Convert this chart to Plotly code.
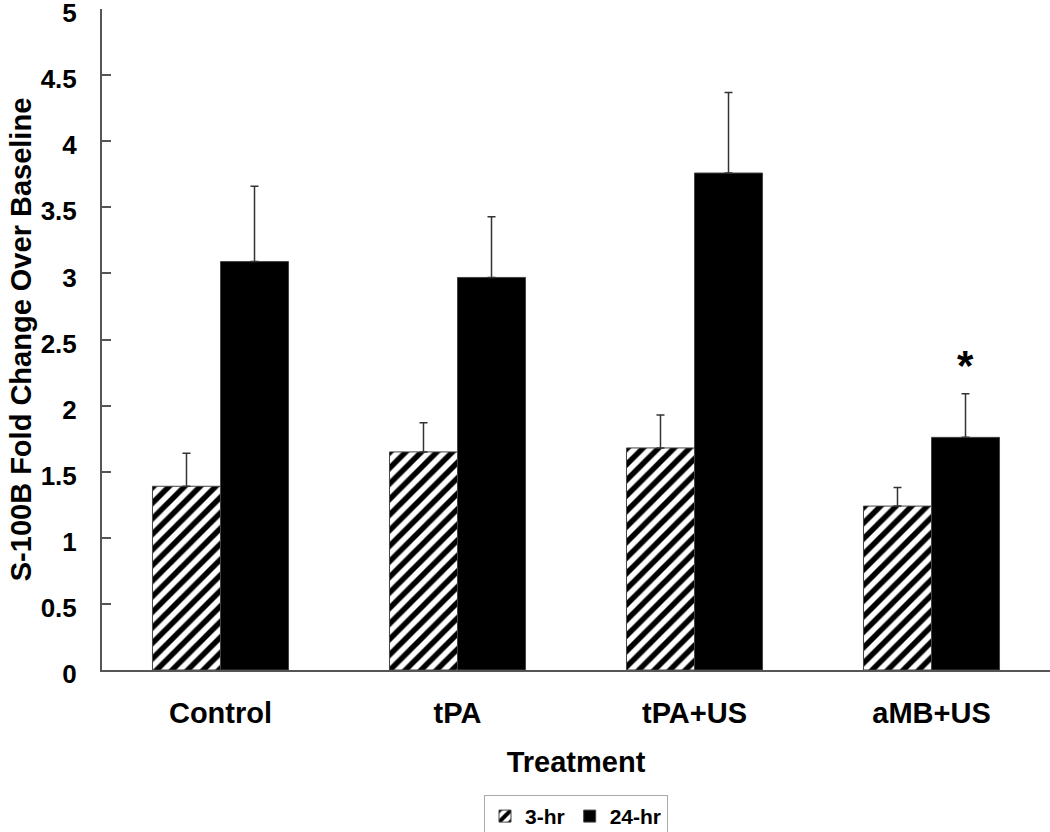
import plotly.graph_objects as go

categories = ["Control", "tPA", "tPA+US", "aMB+US"]
vals_3hr = [1.39, 1.65, 1.68, 1.24]
err_3hr = [0.25, 0.22, 0.25, 0.14]
vals_24hr = [3.09, 2.97, 3.76, 1.76]
err_24hr = [0.57, 0.46, 0.61, 0.33]
series_names = ["3-hr", "24-hr"]
y_ticks = [0, 0.5, 1, 1.5, 2, 2.5, 3, 3.5, 4, 4.5, 5]
y_tick_text = ["0", "0.5", "1", "1.5", "2", "2.5", "3", "3.5", "4", "4.5", "5"]
sig_marker = "*"
sig_index = 3

FONT = "Liberation Sans, Arial, sans-serif"

fig = go.Figure()
fig.add_trace(go.Bar(
    x=categories, y=vals_3hr, name=series_names[0],
    marker=dict(color="white", line=dict(color="#444", width=1),
                pattern=dict(shape="/", fgcolor="black", bgcolor="white",
                             fgopacity=1, size=11, solidity=0.5)),
    error_y=dict(type="data", array=err_3hr, arrayminus=[0] * len(err_3hr),
                 symmetric=False, color="#333", thickness=1.5, width=4),
))
fig.add_trace(go.Bar(
    x=categories, y=vals_24hr, name=series_names[1],
    marker=dict(color="black", line=dict(color="#444", width=1)),
    error_y=dict(type="data", array=err_24hr, arrayminus=[0] * len(err_24hr),
                 symmetric=False, color="#333", thickness=1.5, width=4),
))

fig.add_annotation(
    x=categories[sig_index], y=vals_24hr[sig_index] + err_24hr[sig_index],
    xref="x", yref="y", text=sig_marker, showarrow=False,
    xshift=34, yshift=28,
    font=dict(family=FONT, size=42, color="black", weight="bold"),
)

fig.update_layout(
    width=1050, height=832,
    margin=dict(l=102, r=0, t=9, b=162, autoexpand=False),
    paper_bgcolor="white", plot_bgcolor="white",
    barmode="group", bargap=0.426, bargroupgap=0,
    font=dict(family=FONT, size=29, color="black", weight="bold"),
    showlegend=True,
    legend=dict(orientation="h", x=0.5, xanchor="center", y=-0.189, yanchor="top",
                bordercolor="#aaa", borderwidth=1, font=dict(size=21),
                itemwidth=30, tracegroupgap=0, traceorder="normal"),
    xaxis=dict(
        showline=True, linecolor="#555", linewidth=2, ticks="", showgrid=False,
        ticklabelstandoff=16, automargin=False,
        title=dict(text="Treatment", font=dict(size=29), standoff=24),
    ),
    yaxis=dict(
        range=[0, 5.001], tickvals=y_ticks, ticktext=y_tick_text,
        showline=True, linecolor="#555", linewidth=2, ticks="inside",
        ticklen=9, tickcolor="#555", tickwidth=1.5, showgrid=False,
        zeroline=False, ticklabelstandoff=18, automargin=False,
        ticklabeloverflow="allow", ticklabelshift=4, tickfont=dict(size=26),
        title=dict(text="S-100B Fold Change Over Baseline", font=dict(size=29), standoff=0),
    ),
)

fig.write_html("out.html", config={"displayModeBar": False},
               post_script="document.body.style.margin='0';")
